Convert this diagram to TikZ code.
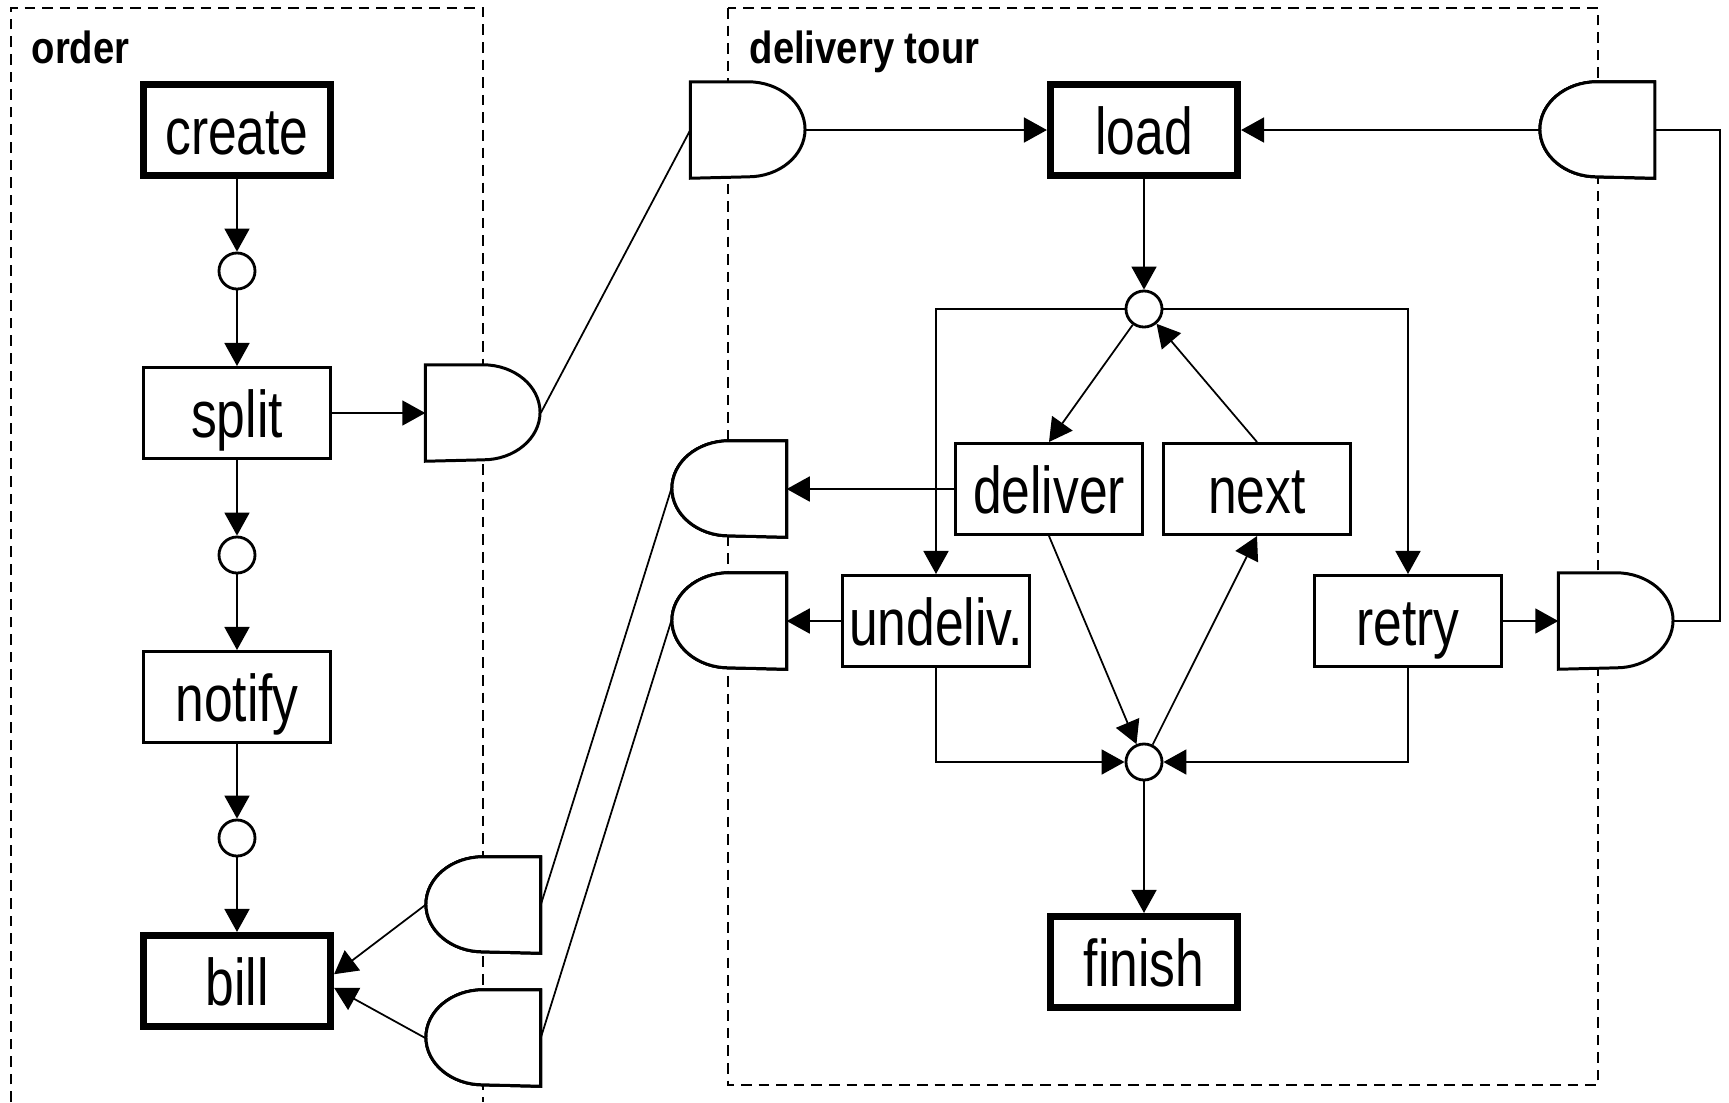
\documentclass[tikz,border=0pt]{standalone}
\usepackage{fontspec}
\setmainfont{Liberation Sans}
\usepackage{graphicx}
\usetikzlibrary{arrows.meta}
\tikzset{task/.style={
  rectangle,
  draw,line width=0.85pt,
  inner sep=0.5mm,minimum width=18.7mm,minimum height=9.1mm,
  text height=4.8mm,text depth=0pt,
  font=\fontsize{18.8}{20}\selectfont}}
\tikzset{keytask/.style={task,line width=2pt}}
\tikzset{place/.style={circle,draw,line width=0.8pt,minimum size=3.6mm,inner sep=0pt}}
\tikzset{gatebox/.style={rectangle,inner sep=0pt,minimum width=11.4mm,minimum height=9.5mm}}
\tikzset{gateline/.style={draw,fill=white,line width=0.85pt}}
\tikzset{area/.style={draw,line width=0.4pt,dash pattern=on 3pt off 2pt}}
\tikzset{tag/.style={inner sep=0pt,font=\fontsize{12.8}{14}\bfseries\selectfont}}
\tikzset{>={Triangle[length=2.3mm,width=2.5mm]}}
\tikzset{flow/.style={->,line width=0.5pt}}
\tikzset{link/.style={line width=0.5pt}}
\newcommand{\nrw}[1]{\scalebox{0.78}[1]{#1}}
\newcommand{\gateright}[2]{%
  \node[gatebox] (#1) at #2 {};
  \path[gateline] (#1.north) arc[start angle=90,end angle=-90,x radius=5.7mm,y radius=4.75mm]
    -- (#1.south west) -- (#1.north west) -- cycle;}
\newcommand{\gateleft}[2]{%
  \node[gatebox] (#1) at #2 {};
  \path[gateline] (#1.north) arc[start angle=90,end angle=270,x radius=5.7mm,y radius=4.75mm]
    -- (#1.south east) -- (#1.north east) -- cycle;}

\begin{document}
\begin{tikzpicture}[x={(0.01cm,0cm)},y={(0cm,-0.01cm)}]
  \useasboundingbox (0,0) rectangle (1729,1102);
  % frames
  \draw[area] (11,1102) |- (483,8) -- (483,1102);
  \draw[area] (728,8) rectangle (1598,1085);
  \node[tag,anchor=base west] (ordertag) at (31,63) {\scalebox{0.85}[1]{order}};
  \node[tag,anchor=base west] (tourtag) at (749,63) {\scalebox{0.85}[1]{delivery tour}};
  % transitions
  \foreach \n/\s/\p/\l in {
      create/keytask/{(237,130)}/create,
      split/task/{(237,413)}/split,
      notify/task/{(237,697)}/notify,
      bill/keytask/{(237,981)}/bill,
      load/keytask/{(1144,130)}/load,
      deliver/task/{(1049,489)}/deliver,
      next/task/{(1257,489)}/next,
      undeliv/task/{(936,621)}/undeliv.,
      retry/task/{(1408,621)}/retry,
      finish/keytask/{(1144,962)}/finish}
    \node[\s] (\n) at \p {\nrw{\l}};
  % places
  \foreach \n/\p in {p1/{(237,271)},p2/{(237,555)},p3/{(237,838)},p4/{(1144,309)},p5/{(1144,762)}}
    \node[place] (\n) at \p {};
  % gates
  \foreach \n/\p in {gSplit/{(483,413)},gTour/{(748,130)},gRetry/{(1616,621)}}
    \gateright{\n}{\p}
  \foreach \n/\p in {gLoop/{(1597,130)},gDel/{(729,489)},gUnd/{(729,621)},gBillA/{(483,905)},gBillB/{(483,1038)}}
    \gateleft{\n}{\p}
  \coordinate (loopcorner) at (1720,130);
  % arcs
  \foreach \m/\n in {create/p1,p1/split,split/p2,p2/notify,notify/p3,p3/bill,load/p4,p5/finish}
    \draw[flow] (\m) -- (\n);
  \draw[flow] (split) -- (gSplit);
  \draw[link] (gSplit.east) -- (gTour.west);
  \draw[flow] (gTour.east) -- (load.west);
  \draw[flow] (gLoop.west) -- (load.east);
  \draw[link] (gLoop.east) -- (loopcorner) |- (gRetry.east);
  \draw[flow] (p4) -- (deliver.north);
  \draw[flow] (next.north) -- (p4);
  \draw[flow] (p4) -| (undeliv);
  \draw[flow] (p4) -| (retry);
  \draw[flow] (deliver) -- (gDel);
  \draw[flow] (undeliv) -- (gUnd);
  \draw[flow] (retry) -- (gRetry);
  \draw[flow] (deliver.south) -- (p5);
  \draw[flow] (p5) -- (next.south);
  \draw[flow] (undeliv) |- (p5);
  \draw[flow] (retry) |- (p5);
  \draw[link] (gDel.west) -- (gBillA.east);
  \draw[link] (gUnd.west) -- (gBillB.east);
  \draw[flow] (gBillA.west) -- (bill.4);
  \draw[flow] (gBillB.west) -- (bill.-4);
\end{tikzpicture}
\end{document}
